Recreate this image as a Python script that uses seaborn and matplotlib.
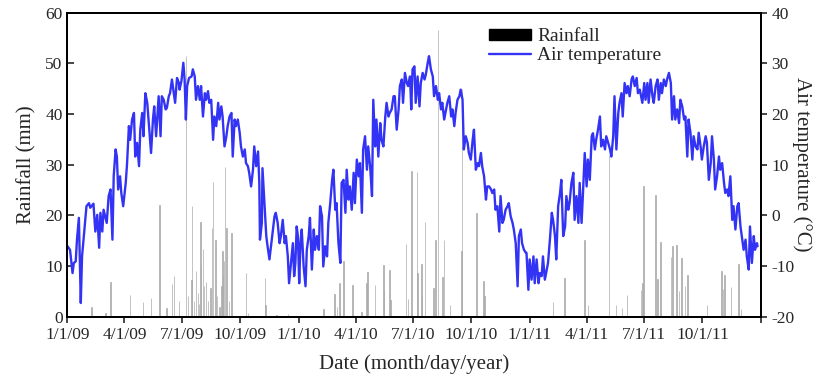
#!/usr/bin/env python3
# Daily rainfall (bars) and air temperature (line), 2009-2011

import pandas as pd
import matplotlib
matplotlib.use('Agg')
import matplotlib.pyplot as plt
from matplotlib.patches import Patch
from matplotlib.lines import Line2D
import seaborn as sns


START = '2009-01-01'

# air temperature: days since 1/1/09 and degrees C
temp_days = [
    0, 4, 8, 10, 13, 15, 18, 21, 23, 27, 30, 34, 36, 41, 44, 47, 50, 52, 55, 57,
    62, 65, 68, 71, 73, 76, 78, 80, 83, 85, 88, 92, 94, 97, 99, 102, 105, 107, 110, 113,
    115, 118, 120, 123, 126, 128, 132, 135, 137, 140, 144, 147, 149, 152, 155, 157, 160, 162, 165, 168,
    170, 173, 176,
    177, 180, 183, 185, 187, 189, 192, 196, 198, 201, 203, 206, 209, 211, 214, 217, 219, 222, 224, 227,
    230, 232, 235, 238, 240, 243, 245, 248, 251, 253, 256, 259, 261, 264, 266, 269, 272, 274, 277, 280,
    282, 285, 287, 290, 293, 295, 298, 301, 303, 304, 307, 308, 311, 314, 316, 319, 322, 324, 327, 329,
    332, 335, 337, 340, 343, 345, 348, 350, 353, 356, 358,
    360, 362, 364, 366, 368, 370, 373, 376, 378, 381, 383, 386, 389, 391, 394, 397, 399, 402, 404, 407,
    410, 412, 415, 418, 420, 423, 425, 428, 431, 433, 436, 439, 441, 444, 446, 449, 452, 454, 457, 460,
    462, 465, 467, 470, 473, 475, 478, 481, 483, 486, 488, 491, 494, 496, 499, 502, 504, 507, 509, 512,
    515, 517, 520, 523, 525, 528, 530, 533, 536, 538, 541,
    543, 545, 548, 550, 553, 556, 558, 561, 564, 566, 569, 571, 574, 577, 579, 582, 585, 587, 590, 592,
    595, 598, 600, 603, 606, 608, 611, 613, 616, 619, 621, 624, 626, 629, 632, 634, 637, 640, 642, 645,
    648, 650, 653, 655, 658, 661, 663, 666, 669, 671, 674, 676, 679, 682, 684, 687, 689, 692, 695, 697,
    700, 703, 705, 708, 711, 713, 716, 718, 721, 724,
    725, 728, 730, 733, 736, 738, 741, 744, 746, 749, 751, 754, 757, 759, 762, 765, 767, 770, 772, 775,
    778, 780, 783, 786, 788, 791, 793, 796, 799, 801, 804, 807, 809, 812, 814, 817, 820, 822, 825, 828,
    830, 833, 835, 838, 841, 843, 846, 849, 851, 854, 857, 859, 862, 864, 867, 870, 872, 875, 877, 880,
    883, 885, 888, 891, 893, 896, 899, 901, 904, 906,
    908, 911, 913, 916, 918, 921, 924, 926, 929, 932, 934, 937, 939, 942, 945, 947, 950, 953, 955, 958,
    960, 963, 966, 968, 971, 974, 976, 979, 981, 984, 987, 989, 992, 995, 997, 1000, 1002, 1005, 1008, 1010,
    1013, 1016, 1018, 1021, 1023, 1026, 1029, 1031, 1034, 1037, 1039, 1042, 1044, 1047, 1050, 1052, 1055, 1058, 1060, 1063,
    1065, 1068, 1071, 1073, 1076, 1078, 1081, 1084, 1086, 1089, 1090,
]
temp_vals = [
    -6.1, -6.8, -11.4, -9.4, -9.1, -4.8, -0.5, -17.3, -8.1, -2.5, 1.8, 2.4, 1.5, 2.3, -3.2, 0.1, -6.4, 0.5, -3.2, 1.1,
    -1.5, 3.8, 5.1, -4.8, 7.7, 13.0, 11.6, 5.1, 7.7, 4.4, 1.8, 6.4, 10.0, 17.6, 14.9, 18.9, 20.2, 11.6, 14.3, 9.7,
    16.9, 20.2, 15.6, 24.1, 22.2, 18.9, 12.3, 18.9, 21.5, 15.6, 23.5, 15.6, 23.5, 22.8, 20.9, 21.2, 23.5, 24.1, 26.8, 24.1,
    22.2, 27.1, 26.1,
    24.8, 26.5, 30.1, 26.8, 18.9, 25.5, 27.1, 27.4, 28.8, 27.4, 22.8, 25.5, 22.8, 25.5, 19.5, 24.1, 22.8, 24.5, 22.2, 22.8,
    14.9, 19.5, 17.6, 22.2, 18.9, 21.5, 19.5, 13.6, 15.6, 17.6, 19.5, 20.2, 11.6, 18.9, 17.6, 18.9, 16.3, 13.6, 11.6, 13.0,
    10.3, 9.7, 8.4, 5.7, 9.0, 13.6, 9.7, 12.6, 6.4, -4.8, -1.5, 9.3, 2.4, -4.1, -6.1, -8.7, -5.5, -3.5, -0.2, 0.5,
    -1.5, -5.5, -4.1, -0.9, -5.5, -4.1, -8.1, -13.4, -9.4, -5.5, -12.0,
    -9.4, -2.2, -4.1, -13.4, -5.5, -2.8, -10.1, -14.0, -6.8, -4.1, -0.5, -10.7, -2.8, -6.8, -4.1, -6.8, 1.8, -0.2, -10.1, -6.1,
    -8.1, -1.5, 2.4, 7.0, 9.0, 1.1, 2.4, -5.5, -9.4, 6.4, 7.0, 0.5, 9.0, 3.1, 5.7, 1.1, 8.4, 2.4, 11.0, 7.7,
    10.3, 0.5, 13.0, 15.6, 9.0, 13.6, 9.7, 3.8, 22.8, 13.6, 18.9, 11.6, 18.2, 14.9, 13.6, 19.5, 22.2, 19.5, 20.2, 20.9,
    23.5, 23.5, 16.9, 20.9, 25.5, 26.8, 22.2, 28.1, 26.1, 25.5, 27.4,
    20.9, 28.8, 29.4, 22.2, 27.4, 21.5, 26.1, 28.1, 26.8, 27.8, 30.1, 31.4, 28.8, 27.4, 23.5, 25.5, 22.8, 24.1, 20.9, 22.2,
    18.9, 20.9, 22.2, 23.5, 19.5, 20.9, 17.6, 20.2, 22.8, 23.5, 24.8, 22.8, 13.0, 15.6, 14.3, 12.3, 11.0, 14.9, 16.9, 9.0,
    10.3, 9.7, 12.3, 9.7, 7.7, 3.1, 5.7, 5.7, 5.1, 4.4, 5.1, 1.1, 1.8, -3.2, 3.8, -1.5, -0.9, 1.1, 1.8, 2.4,
    -0.2, -1.5, -2.8, -5.5, -14.0, -4.1, -2.8, -5.5, -6.8, -7.4,
    -7.4, -14.7, -8.7, -12.7, -8.1, -13.4, -8.7, -13.4, -11.4, -12.0, -8.1, -12.7, -10.7, -9.4, -4.8, 0.5, -0.9, -4.1, -8.7, 1.8,
    4.4, 7.0, -4.1, -2.2, 3.8, 1.1, 2.4, 6.4, 8.4, -0.9, 3.8, -1.5, 6.4, -1.5, 3.8, 12.3, 5.7, 11.0, 7.0, 15.6,
    16.2, 13.0, 14.9, 16.9, 19.5, 13.6, 14.9, 13.0, 15.6, 14.3, 13.0, 11.6, 15.6, 23.5, 13.0, 20.2, 22.2, 24.1, 19.5, 26.1,
    24.1, 25.5, 23.5, 26.8, 27.4, 25.5, 27.1, 24.1, 24.8, 23.5,
    22.2, 26.1, 22.8, 26.1, 22.2, 26.8, 23.5, 22.2, 25.5, 26.8, 22.8, 26.1, 24.1, 26.8, 25.5, 26.8, 28.1, 26.1, 18.9, 23.5,
    18.9, 20.9, 18.2, 22.8, 21.5, 18.9, 19.5, 11.6, 18.9, 16.3, 11.0, 15.6, 13.6, 13.0, 16.3, 13.6, 11.0, 13.6, 15.6, 14.3,
    7.0, 10.3, 15.6, 11.0, 5.1, 7.7, 11.6, 9.0, 10.3, 6.4, 4.4, 5.1, 3.8, 7.7, -0.9, 1.8, -2.8, 1.8, 2.4, -2.2,
    -4.1, -6.8, -4.8, -8.1, -10.7, -2.2, -9.4, -4.1, -6.8, -5.5, -6.1,
]

# rainfall events: days since 1/1/09 and mm
rain_days = [
    38, 60, 68, 99, 119, 132, 145, 156, 165, 168, 176, 187, 190, 196, 197, 200, 203, 206, 208, 210,
    211, 214, 216, 219, 222, 226, 228, 230, 234, 236, 240, 243, 245, 246, 247, 249, 251, 255, 259, 282,
    285, 312, 313, 330, 348,
    404, 422, 426, 430, 436, 450, 464, 472, 474, 486, 499, 500, 509, 510, 535, 538, 543, 552, 553, 559,
    560, 565, 578, 581, 585, 592, 595, 604, 622, 623, 646, 657, 659,
    767, 785, 817, 822, 855, 866, 876, 884, 906, 908, 910, 929, 932, 937, 953, 956, 962, 966, 970, 975,
    979, 1010, 1033, 1035, 1038, 1048, 1060, 1064,
]
rain_mm = [
    2.0, 0.7, 6.8, 4.2, 2.9, 3.6, 22.1, 1.7, 6.4, 8.1, 3.0, 51.4, 4.0, 7.3, 21.9, 3.0, 9.0, 4.7, 2.5, 18.6,
    10.2, 13.4, 6.0, 6.8, 3.0, 5.7, 17.4, 26.6, 15.2, 4.0, 2.0, 6.0, 13.0, 8.0, 10.9, 29.5, 17.4, 3.0, 16.5, 8.7,
    0.8, 7.6, 2.4, 0.4, 0.6,
    1.5, 4.5, 1.9, 6.6, 10.9, 6.3, 0.9, 6.6, 8.9, 6.3, 10.1, 5.3, 9.3, 3.2, 14.3, 3.4, 28.7, 28.5, 8.6, 10.4,
    4.0, 18.7, 5.7, 15.1, 56.5, 7.8, 15.2, 2.4, 12.9, 45.0, 20.5, 7.0, 4.0,
    2.9, 7.6, 15.2, 2.4, 31.9, 2.4, 1.8, 4.3, 5.3, 6.6, 25.7, 24.1, 7.4, 14.7, 11.7, 13.9, 14.1, 5.0, 11.6, 6.0,
    8.2, 2.4, 9.0, 5.5, 8.3, 5.9, 10.4, 1.5,
]

xtick_dates = ['2009-01-01', '2009-04-01', '2009-07-01', '2009-10-01',
               '2010-01-01', '2010-04-01', '2010-07-01', '2010-10-01',
               '2011-01-01', '2011-04-01', '2011-07-01', '2011-10-01', '2012-01-01']
xtick_labels = ['1/1/09', '4/1/09', '7/1/09', '10/1/09', '1/1/10', '4/1/10',
                '7/1/10', '10/1/10', '1/1/11', '4/1/11', '7/1/11', '10/1/11', '']
rain_ticks = [0, 10, 20, 30, 40, 50, 60]
temp_ticks = [-20, -10, 0, 10, 20, 30, 40]


def main():
    sns.set_style('ticks')
    plt.rcParams['font.family'] = ['Liberation Serif', 'DejaVu Serif']
    plt.rcParams['axes.unicode_minus'] = False

    t0 = pd.Timestamp(START)
    temp_dates = t0 + pd.to_timedelta(temp_days, unit='D')
    rain_dates = t0 + pd.to_timedelta(rain_days, unit='D')

    fig, ax = plt.subplots(figsize=(8.18, 3.82), dpi=100)
    fig.subplots_adjust(left=0.0825, right=0.930, bottom=0.171, top=0.967)

    ax.bar(rain_dates, rain_mm, width=0.8, color='#ababab',
           edgecolor='#ababab', linewidth=0.5)
    ax.set_ylim(0, 60)
    ax.set_yticks(rain_ticks)
    ax.set_ylabel('Rainfall (mm)', fontsize=15, labelpad=6)

    ax2 = ax.twinx()
    sns.lineplot(x=temp_dates, y=temp_vals, ax=ax2, color='#3333f5',
                 linewidth=1.7, estimator=None, legend=False)
    ax2.set_ylim(-20, 40)
    ax2.set_yticks(temp_ticks)
    ax2.set_ylabel('Air temperature (\u00b0C)', fontsize=15, rotation=270, labelpad=13)

    xt = pd.to_datetime(xtick_dates)
    ax.set_xlim(xt[0], xt[-1])
    ax.set_xticks(xt)
    ax.set_xticklabels(xtick_labels)
    ax.set_xlabel('Date (month/day/year)', fontsize=15, labelpad=8)

    ax.tick_params(axis='y', direction='in', length=5, width=1.2, labelsize=12.5)
    ax.tick_params(axis='x', direction='out', length=4, width=1.2, labelsize=12.5)
    ax2.tick_params(axis='y', direction='out', length=4, width=1.2, labelsize=12.5)
    for a in (ax, ax2):
        for s in a.spines.values():
            s.set_visible(True)
            s.set_linewidth(1.4)
            s.set_color('black')

    handles = [Patch(facecolor='black', edgecolor='black'),
               Line2D([], [], color='#3333f5', linewidth=1.7)]
    ax2.legend(handles, ['Rainfall', 'Air temperature'], loc='upper left',
               bbox_to_anchor=(0.585, 1.0), frameon=False, fontsize=14,
               handlelength=2.2, handleheight=0.5, labelspacing=0.1,
               handletextpad=0.3, borderpad=0.3)

    fig.savefig('out.png', dpi=100)


if __name__ == '__main__':
    main()
